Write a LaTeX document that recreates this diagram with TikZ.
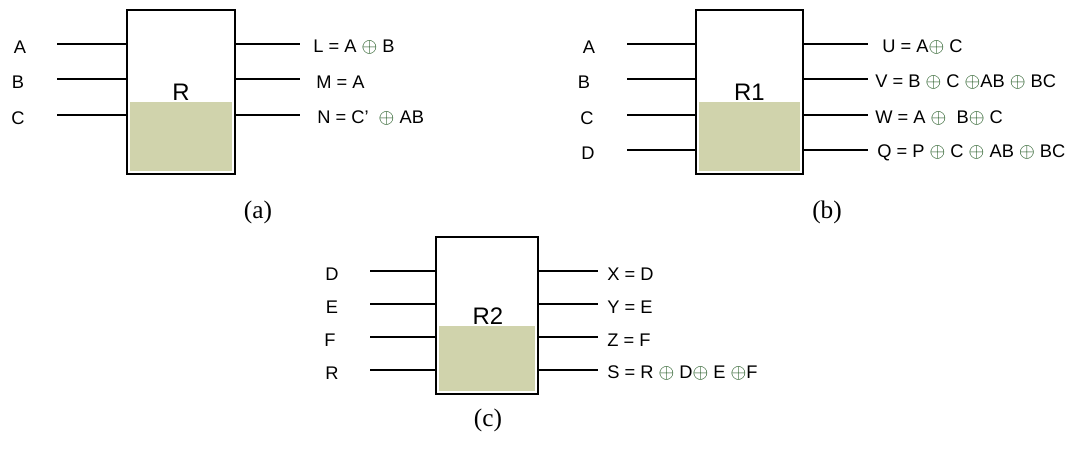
\documentclass[tikz,border=0pt]{standalone}
\usepackage{fontspec}
\setmainfont{Liberation Serif}
\setsansfont{Liberation Sans}
\usepackage{xcolor}
\usetikzlibrary{positioning, calc}
\definecolor{revfill}{HTML}{D0D3AC}
\definecolor{xorgreen}{HTML}{0F4A0F}
\newcommand{\xo}{{\color{xorgreen}\fontsize{14.5}{14.5}\selectfont$\oplus$}}

\begin{document}
\begin{tikzpicture}[x=0.025cm, y=-0.025cm,
    gate/.style={rectangle, draw=black, line width=1.3pt, inner sep=0pt, outer sep=0pt,
                 minimum height=4.1cm},
    gname/.style={font=\sffamily\fontsize{17}{19}\selectfont},
    sig/.style={font=\sffamily\fontsize{13}{15}\selectfont, inner sep=0pt},
    outsig/.style={sig, anchor=west},
    wire/.style={line width=1.3pt},
    caption/.style={font=\rmfamily\fontsize{18}{20}\selectfont}
]
    \useasboundingbox (0,0) rectangle (1076,449);

    % (a) gate R
    \node[gate, minimum width=2.7cm] (ra) at (181,92) {};
    \fill[revfill] ([shift={(3,-3)}]ra.south west) rectangle ([shift={(-3,10)}]ra.east);
    \node[gname, anchor=base] (ralab) at (181,100) {R};
    \foreach \n/\y/\lx in {A/44/20, B/79/18, C/115/18} {
        \node[sig] (ain\n) at (\lx,\y+3) {\n};
        \coordinate (aw\n) at (57,\y);
        \draw[wire] (aw\n) -- (aw\n -| ra.west);
    }
    \foreach \n/\y in {L/44, M/79, N/115} {
        \coordinate (ao\n) at (300,\y);
        \draw[wire] (ra.east |- ao\n) -- (ao\n);
    }
    \node[outsig] (aL) at (313,47) {L = A \xo{} B};
    \node[outsig] (aM) at (316,82) {M = A};
    \node[outsig] (aN) at (317,118) {N = C’ \ \xo{} AB};
    \node[caption] (capa) at (258,212) {(a)};

    % (b) gate R1
    \node[gate, minimum width=2.675cm] (rb) at (749.5,92) {};
    \fill[revfill] ([shift={(3,-3)}]rb.south west) rectangle ([shift={(-3,10)}]rb.east);
    \node[gname, anchor=base] (rblab) at (749.5,100) {R1};
    \foreach \n/\y/\lx in {A/44/589, B/79/584, C/115/587, D/150/588} {
        \node[sig] (bin\n) at (\lx,\y+3) {\n};
        \coordinate (bw\n) at (627,\y);
        \draw[wire] (bw\n) -- (bw\n -| rb.west);
    }
    \foreach \n/\y in {U/44, V/79, W/115, Q/150} {
        \coordinate (bo\n) at (868,\y);
        \draw[wire] (rb.east |- bo\n) -- (bo\n);
    }
    \node[outsig] (bU) at (882,47) {U = A\xo{} C};
    \node[outsig] (bV) at (875,82) {V = B \xo{} C \xo{}AB \xo{} BC};
    \node[outsig] (bW) at (875,118) {W = A \xo{} \ B\xo{} C};
    \node[outsig] (bQ) at (877,153) {Q = P \xo{} C \xo{} AB \xo{} BC};
    \node[caption] (capb) at (827,212) {(b)};

    % (c) gate R2
    \node[gate, minimum width=2.55cm, minimum height=3.925cm] (rc) at (487,315.5) {};
    \fill[revfill] ([shift={(3,-3)}]rc.south west) rectangle ([shift={(-3,10.5)}]rc.east);
    \node[gname, anchor=base] (rclab) at (488,324) {R2};
    \foreach \n/\y/\lx in {D/271/332, E/304/332, F/337/330, R/370/332} {
        \node[sig] (cin\n) at (\lx,\y+3) {\n};
        \coordinate (cw\n) at (370,\y);
        \draw[wire] (cw\n) -- (cw\n -| rc.west);
    }
    \foreach \n/\y in {X/271, Y/304, Z/337, S/370} {
        \coordinate (co\n) at (598,\y);
        \draw[wire] (rc.east |- co\n) -- (co\n);
    }
    \node[outsig] (cX) at (607,274) {X = D};
    \node[outsig] (cY) at (607,307) {Y = E};
    \node[outsig] (cZ) at (607,340) {Z = F};
    \node[outsig] (cS) at (607,373) {S = R \xo{} D\xo{} E \xo{}F};
    \node[caption] (capc) at (488,420) {(c)};

\end{tikzpicture}
\end{document}
